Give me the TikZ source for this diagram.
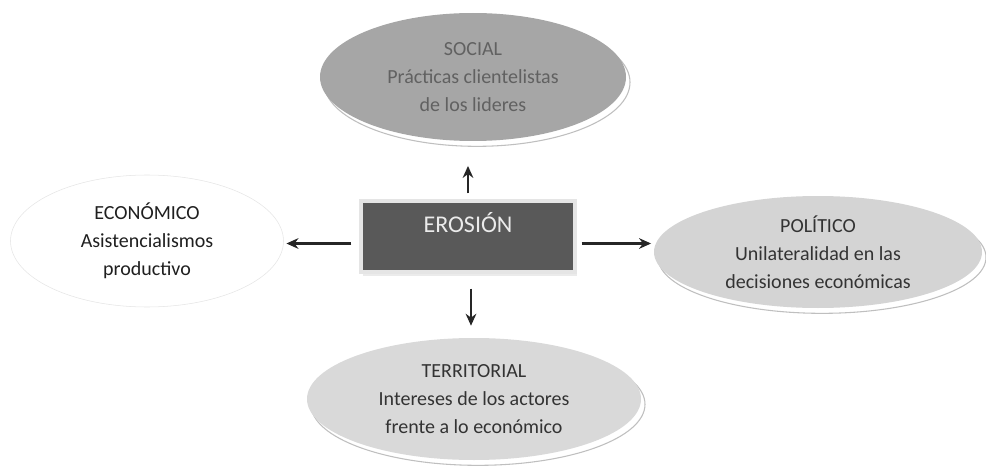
\documentclass[tikz,border=0pt]{standalone}
\usepackage{fontspec}
\setmainfont{Carlito}
\usetikzlibrary{shapes.geometric,arrows.meta,shadows}

\tikzset{
  bubble/.style={ellipse, inner sep=0pt, align=center,
    font=\fontsize{15}{21}\selectfont,
    drop shadow={shadow xshift=3pt, shadow yshift=-4pt, fill=white, draw=black!25, line width=0.8pt, opacity=1}},
  arr/.style={draw=black!85, line width=1.6pt, -{Stealth[length=9pt,width=8pt]}},
}

\begin{document}
\begin{tikzpicture}[x=0.75pt,y=0.75pt,yscale=-1,xscale=1]
\useasboundingbox (0,0) rectangle (986,467);

%Shape: Rectangle
\node (ero) at (468,236.5) [fill=black!65, draw=black!10, line width=2.5pt,
  drop shadow={shadow xshift=1.5pt, shadow yshift=-3pt, fill=black!8, draw=none, opacity=1},
  minimum width=160.5pt, inner ysep=0pt, text height=23.7pt, text depth=29.5pt,
  font=\fontsize{18}{20}\selectfont, text=black!8] {EROSIÓN};

%Shape: Ellipse
\node (soc) at (473,77) [bubble, fill=black!35, text=black!62,
  minimum width=229.5pt, minimum height=96pt] {SOCIAL\\Prácticas clientelistas\\de los lideres};
%Shape: Ellipse
\node (eco) at (147,241) [ellipse, inner sep=0pt, align=center, font=\fontsize{15}{21}\selectfont,
  fill=white, draw=black!10, text=black!88,
  minimum width=204.75pt, minimum height=99pt] {ECONÓMICO\\Asistencialismos\\productivo};
%Shape: Ellipse
\node (pol) at (818,252) [bubble, fill=black!17, text=black!80,
  minimum width=246pt, minimum height=84pt] {POLÍTICO\\Unilateralidad en las\\decisiones económicas};
%Shape: Ellipse
\node (ter) at (474,399) [bubble, fill=black!15, text=black!80,
  minimum width=250.5pt, minimum height=91.5pt] {TERRITORIAL\\Intereses de los actores\\frente a lo económico};

% Arrows
\path (ero.north) ++(0,-6) coordinate (up);
\draw [arr, shorten >=18.5pt] (up) -- (up |- soc.south);
\path (ero.south) ++(3,15) coordinate (dn);
\draw [arr, shorten >=9pt] (dn) -- (dn |- ter.north);
\path (ero.west) ++(-8,7) coordinate (lf);
\draw [arr, shorten >=2pt] (lf) -- (lf -| eco.east);
\path (ero.east) ++(5,7) coordinate (rt);
\draw [arr, shorten >=2pt] (rt) -- (rt -| pol.west);

\end{tikzpicture}
\end{document}
